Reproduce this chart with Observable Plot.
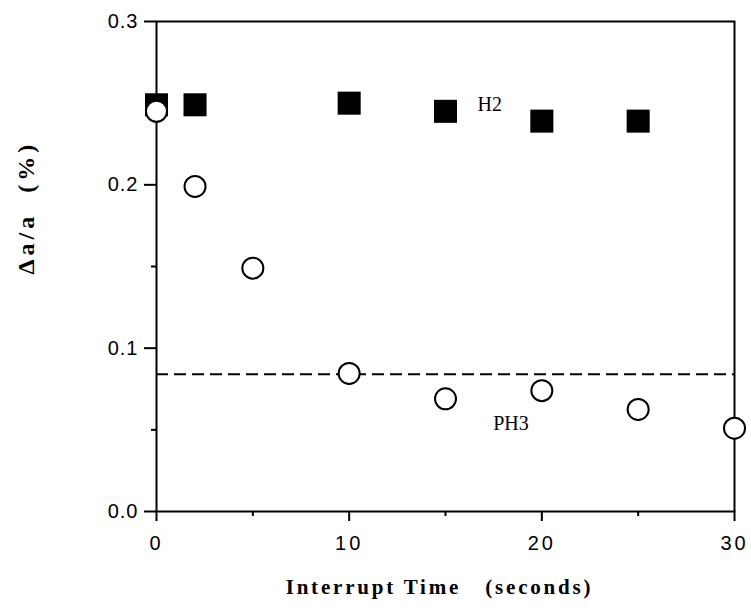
<!DOCTYPE html>
<html>
<head>
<meta charset="utf-8">
<script src="https://cdn.jsdelivr.net/npm/d3@7"></script>
<script src="https://cdn.jsdelivr.net/npm/@observablehq/plot@0.6"></script>
<style>
  html, body { margin: 0; padding: 0; background: #fff; }
  svg text { white-space: pre; }
</style>
</head>
<body>
<div id="chart"></div>
<script>
const timeH2 = [0, 2, 10, 15, 20, 25];
const valueH2 = [0.249, 0.249, 0.250, 0.245, 0.239, 0.239];
const timePH3 = [0, 2, 5, 10, 15, 20, 25, 30];
const valuePH3 = [0.245, 0.199, 0.149, 0.0845, 0.069, 0.074, 0.0625, 0.051];
const dashLevel = [0.084];
const xTicks = [0, 10, 20, 30];
const xMinorTicks = [5, 15, 25];
const yTicks = [0, 0.1, 0.2, 0.3];
const yMinorTicks = [0.05, 0.15, 0.25];
const seriesLabels = ["H2", "PH3"];
const labelX = [17.3, 18.4];
const labelY = [0.249, 0.054];
const xTitle = "Interrupt Time   (seconds)";
const yTitle = "\u0394a/a  (%)";

const h2 = timeH2.map((t, i) => ({t, v: valueH2[i]}));
const ph3 = timePH3.map((t, i) => ({t, v: valuePH3[i]}));
const labels = seriesLabels.map((s, i) => ({s, x: labelX[i], y: labelY[i]}));

const chart = Plot.plot({
  width: 751,
  height: 613,
  marginLeft: 156,
  marginRight: 17,
  marginTop: 21,
  marginBottom: 102,
  style: {fontFamily: "'Liberation Sans', Arial, sans-serif", background: "#fff", color: "#000"},
  x: {domain: [0, 30]},
  y: {domain: [0, 0.3]},
  marks: [
    Plot.frame({stroke: "#000", strokeWidth: 2}),
    Plot.axisX({ticks: xTicks, tickSize: 10, tickPadding: 14, strokeWidth: 2, fontSize: 20, tickFormat: d => String(d), label: null}),
    Plot.axisX({ticks: xMinorTicks, tickSize: 5, strokeWidth: 2, text: null, label: null}),
    Plot.axisY({ticks: yTicks, tickSize: 12, tickPadding: 6, strokeWidth: 2, fontSize: 20, tickFormat: d3.format(".1f"), label: null}),
    Plot.axisY({ticks: yMinorTicks, tickSize: 5, strokeWidth: 2, text: null, label: null}),
    Plot.ruleY(dashLevel, {stroke: "#000", strokeWidth: 2, strokeDasharray: "12,6"}),
    Plot.dot(h2, {x: "t", y: "v", symbol: "square", r: 13, fill: "#000", stroke: "none"}),
    Plot.dot(ph3, {x: "t", y: "v", symbol: "circle", r: 10.5, fill: "#fff", stroke: "#000", strokeWidth: 2}),
    Plot.text(labels, {x: "x", y: "y", text: "s", fontFamily: "'Liberation Serif', 'Times New Roman', serif", fontSize: 20, fill: "#000"}),
    Plot.text([xTitle], {frameAnchor: "bottom", dx: -6, dy: 82, text: d => d, fontFamily: "'Liberation Serif', serif", fontWeight: "bold", fontSize: 21, fill: "#000"}),
    Plot.text([yTitle], {frameAnchor: "left", dx: -130, dy: 8, rotate: -90, text: d => d, fontFamily: "'Liberation Serif', serif", fontWeight: "bold", fontSize: 24, fill: "#000"})
  ]
});
const svg = d3.select(chart);
svg.selectAll("g[aria-label='x-axis tick label'] text").attr("letter-spacing", "3px");
svg.selectAll("g[aria-label='y-axis tick label'] text").attr("letter-spacing", "1px");
svg.selectAll("g[aria-label='text'] text").filter(function () { return this.textContent === xTitle; }).attr("letter-spacing", "2.8px");
svg.selectAll("g[aria-label='text'] text").filter(function () { return this.textContent === yTitle; }).attr("letter-spacing", "4px");
document.getElementById("chart").appendChild(chart);
</script>
</body>
</html>
